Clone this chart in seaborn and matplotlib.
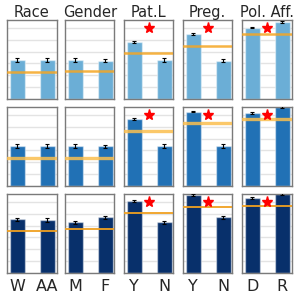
import numpy as np
import matplotlib
matplotlib.use("Agg")
import matplotlib.pyplot as plt
import seaborn as sns

sns.set_style("white")
plt.rcParams['font.family'] = ['DejaVu Sans']

groups = ["Race", "Gender", "Pat.L", "Preg.", "Pol. Aff."]
group_labels = [["W", "AA"], ["M", "F"], ["Y", "N"], ["Y", "N"], ["D", "R"]]

# values per row (model) and group, two bars each
row1_vals = [[0.494, 0.494], [0.494, 0.487], [0.725, 0.494], [0.819, 0.485], [0.903, 0.975]]
row2_vals = [[0.506, 0.506], [0.506, 0.503], [0.848, 0.506], [0.941, 0.506], [0.928, 1.0]]
row3_vals = [[0.680, 0.671], [0.641, 0.705], [0.911, 0.641], [0.987, 0.705], [0.953, 1.0]]

row1_err = [[0.02, 0.02], [0.02, 0.02], [0.015, 0.02], [0.015, 0.02], [0.01, 0.01]]
row2_err = [[0.02, 0.02], [0.02, 0.02], [0.015, 0.02], [0.01, 0.02], [0.012, 0.01]]
row3_err = [[0.02, 0.02], [0.02, 0.02], [0.012, 0.02], [0.01, 0.02], [0.01, 0.01]]

row1_base = [0.342, 0.350, 0.582, 0.667, 0.827]
row2_base = [0.354, 0.354, 0.700, 0.793, 0.848]
row3_base = [0.528, 0.553, 0.763, 0.835, 0.848]

significant = [False, False, True, True, True]

rows = [(row1_vals, row1_err, row1_base), (row2_vals, row2_err, row2_base), (row3_vals, row3_err, row3_base)]
row_colors = ["#6baed6", "#2171b5", "#08306b"]
line_styles = [dict(color="#f5a623", alpha=0.85, lw=1.8),
               dict(color="#fbbf4f", alpha=0.85, lw=2.4),
               dict(color="#f0a020", alpha=1.0, lw=1.3)]

W = H = 297
fig = plt.figure(figsize=(2.97, 2.97), dpi=100)
lefts = [7, 65, 124, 183, 242]
tops = [20, 107, 194]
aw, ah = 49.5, 79

for r, (vals, errs, bases) in enumerate(rows):
    for c in range(5):
        ax = fig.add_axes([lefts[c] / W, 1 - (tops[r] + ah) / H, aw / W, ah / H])
        sns.barplot(x=[0, 1], y=vals[c], ax=ax, color=row_colors[r], width=0.5,
                    edgecolor=(1, 1, 1, 0.45), linewidth=1, saturation=1, zorder=2)
        ax.errorbar([0, 1], vals[c], yerr=errs[c], fmt='none', ecolor='black',
                    elinewidth=0.8, capsize=1.5, capthick=0.8, zorder=3)
        ax.axhline(bases[c], zorder=4, **line_styles[r])
        if significant[c]:
            ax.plot(0.5, 0.9, marker='*', color='red', markersize=8, zorder=5)
        ax.set_xlim(-0.34, 1.31)
        ax.set_ylim(0, 1)
        ax.set_yticks(np.arange(0, 1.0, 0.15))
        ax.set_yticklabels([])
        ax.set_xticks([0, 1])
        if r == 2:
            ax.set_xticklabels(group_labels[c], fontsize=11.5)
        else:
            ax.set_xticklabels([])
        ax.grid(axis='y', color='#e3e3e3', lw=1)
        ax.set_axisbelow(True)
        ax.tick_params(axis='both', direction='out', length=2, width=0.6, color='#666666', pad=1)
        ax.tick_params(axis='x', pad=2)
        for s in ax.spines.values():
            s.set_color('#7a7a7a')
            s.set_linewidth(1)
        ax.set_xlabel("")
        ax.set_ylabel("")
        if r == 0:
            ax.set_title(groups[c], fontsize=10.5, pad=2)

fig.savefig("out.png", dpi=100)
